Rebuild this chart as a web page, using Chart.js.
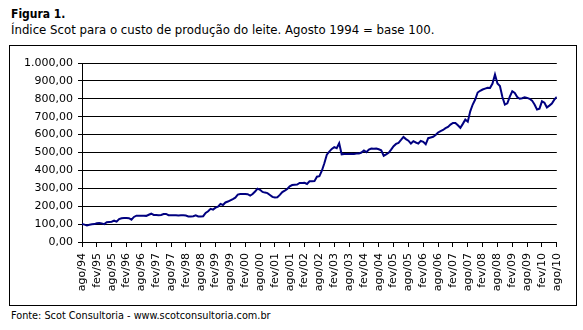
<!DOCTYPE html>
<html>
<head>
<meta charset="utf-8">
<script src="https://cdn.jsdelivr.net/npm/chart.js@4"></script>
<style>
  body { margin: 0; background: #fff; font-family: 'DejaVu Sans Condensed', 'DejaVu Sans', sans-serif; }
  #titulo { position: absolute; left: 11px; top: 7px; font-size: 12px; font-weight: bold; }
  #subtitulo { position: absolute; left: 11px; top: 23px; font-size: 11.75px; font-family: 'DejaVu Sans', sans-serif; }
  #quadro { position: absolute; left: 9px; top: 45px; width: 566px; height: 259px; border: 1px solid #000; }
  #grafico { position: absolute; left: 0; top: 0; }
  #fonte { position: absolute; left: 11px; top: 309px; font-size: 10.8px; }
</style>
</head>
<body>
<div id="titulo">Figura 1.</div>
<div id="subtitulo">Índice Scot para o custo de produção do leite. Agosto 1994 = base 100.</div>
<div id="quadro"><canvas id="grafico" width="566" height="259"></canvas></div>
<div id="fonte">Fonte: Scot Consultoria - www.scotconsultoria.com.br</div>
<script>
// meses em portugues, serie mensal de ago/94 a ago/10
const meses = ['jan', 'fev', 'mar', 'abr', 'mai', 'jun', 'jul', 'ago', 'set', 'out', 'nov', 'dez'];

// indice Scot (ago/94 = 100)
const indice = [
  100, 97, 93, 96, 99, 100, 105, 106, 104, 100, 110, 112,
  113, 119, 114, 128, 133, 134, 134, 133, 125, 140, 147, 146,
  147, 147, 146, 152, 158, 151, 151, 150, 151, 156, 157, 150,
  149, 149, 149, 148, 149, 149, 148, 143, 143, 144, 149, 143,
  143, 144, 162, 172, 185, 181, 192, 198, 213, 207, 221, 226,
  233, 240, 248, 265, 268, 268, 268, 267, 259, 268, 282, 298,
  292, 280, 276, 273, 263, 252, 249, 250, 263, 279, 287, 296,
  311, 318, 320, 321, 330, 330, 331, 324, 339, 339, 340, 365,
  368, 398, 440, 488, 505, 520, 530, 524, 552, 490, 492, 492,
  491, 493, 492, 494, 495, 500, 511, 502, 516, 522, 521, 522,
  518, 512, 482, 490, 498, 516, 535, 548, 554, 570, 587, 575,
  566, 550, 563, 556, 550, 565, 560, 546, 580, 584, 588, 598,
  612, 620, 626, 636, 643, 656, 665, 665, 652, 638, 660, 684,
  672, 730, 768, 796, 835, 845, 852, 857, 861, 860, 885, 936,
  885, 872, 810, 768, 775, 812, 842, 833, 810, 800, 803, 809,
  805, 800, 790, 768, 740, 745, 786, 778, 752, 762, 773, 795,
  811
];

const rotulos = indice.map((v, i) => {
  const m = (7 + i) % 12;
  const ano = (94 + Math.floor((7 + i) / 12)) % 100;
  return meses[m] + '/' + String(ano).padStart(2, '0');
});

function formataBR(v) {
  const partes = v.toFixed(2).split('.');
  const inteiro = partes[0].replace(/\B(?=(\d{3})+(?!\d))/g, '.');
  return inteiro + ',' + partes[1];
}

Chart.defaults.font.family = "'DejaVu Sans', sans-serif";
Chart.defaults.font.size = 11;
Chart.defaults.color = '#000';

new Chart(document.getElementById('grafico'), {
  type: 'line',
  data: {
    datasets: [{
      data: indice.map((v, i) => ({ x: i, y: v })),
      borderColor: '#000080',
      borderWidth: 2,
      pointRadius: 0,
      tension: 0,
      fill: false
    }]
  },
  options: {
    responsive: false,
    animation: false,
    layout: { padding: { top: 17, right: 16, left: 0, bottom: 0 } },
    plugins: { legend: { display: false }, tooltip: { enabled: false } },
    scales: {
      x: {
        type: 'linear',
        min: 0,
        max: indice.length - 1,
        afterBuildTicks: (s) => {
          const t = [];
          for (let i = 0; i < indice.length; i += 6) t.push({ value: i });
          s.ticks = t;
        },
        afterFit: (s) => { s.height = 63; },
        ticks: {
          autoSkip: false,
          minRotation: 90,
          maxRotation: 90,
          padding: 6,
          callback: (v) => rotulos[v]
        },
        grid: { drawOnChartArea: false, drawTicks: true, tickLength: 5, color: '#000' },
        border: { color: '#000', width: 1 }
      },
      y: {
        min: 0,
        max: 1000,
        afterFit: (s) => { s.width = 72; },
        ticks: { stepSize: 100, padding: 5, callback: (v) => formataBR(v) },
        grid: { color: '#000', lineWidth: 1, tickLength: 4 },
        border: { color: '#000', width: 1 }
      }
    }
  }
});
</script>
</body>
</html>
